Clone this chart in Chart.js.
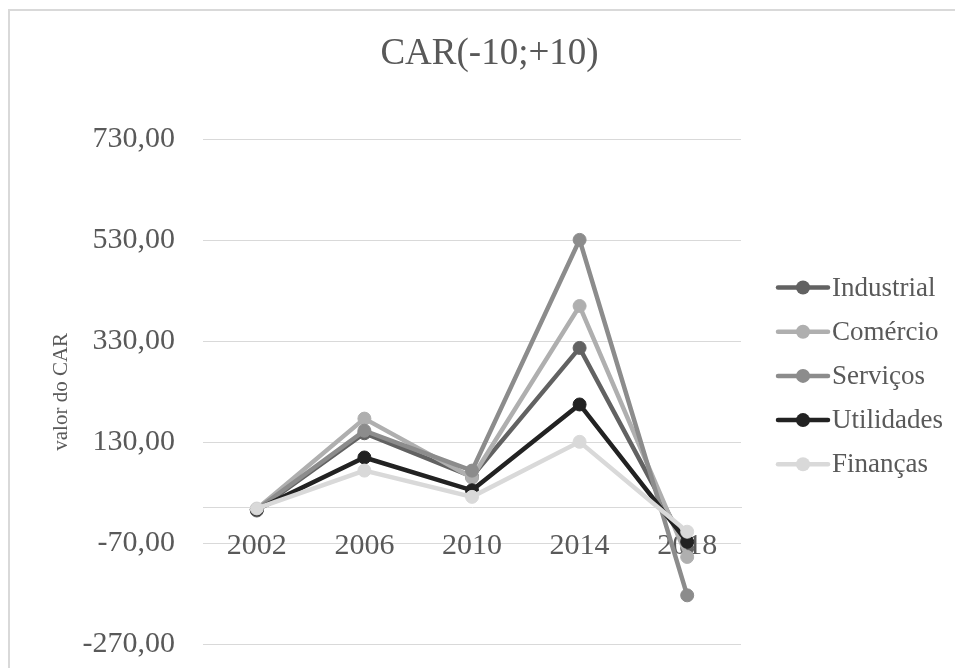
<!DOCTYPE html>
<html>
<head>
<meta charset="utf-8">
<script src="https://cdn.jsdelivr.net/npm/chart.js@4/dist/chart.umd.min.js"></script>
<style>
  html, body { margin: 0; padding: 0; background: #fff; overflow: hidden; }
  #wrap { position: relative; width: 955px; height: 668px; overflow: hidden; }
  #frame { position: absolute; left: 8px; top: 9px; width: 1200px; height: 1200px;
           border-left: 2px solid #d9d9d9; border-top: 2px solid #d9d9d9; box-sizing: border-box; }
  canvas { position: absolute; left: 0; top: 0; }
</style>
</head>
<body>
<div id="wrap">
  <div id="frame"></div>
  <canvas id="c" width="955" height="668"></canvas>
</div>
<script>
const categories = ['2002', '2006', '2010', '2014', '2018'];
const industrial = [-5, 148, 62, 317, -80];
const comercio   = [-2, 177, 60, 400, -97];
const servicos   = [-3, 153, 74, 531, -173];
const utilidades = [-3, 100, 35, 205, -67];
const financas   = [-1, 74, 22, 131, -47];
const seriesNames = ['Industrial', 'Comércio', 'Serviços', 'Utilidades', 'Finanças'];
const seriesColors = ['#626262', '#afafaf', '#8c8c8c', '#222222', '#d9d9d9'];
const yTickValues = [-270, -70, 130, 330, 530, 730];
const yTickLabels = ['-270,00', '-70,00', '130,00', '330,00', '530,00', '730,00'];

const FONT = '"Liberation Serif", "Times New Roman", serif';
const TEXT = '#595959';

const allSeries = [industrial, comercio, servicos, utilidades, financas];
const datasets = allSeries.map((d, i) => ({
  label: seriesNames[i],
  data: d,
  borderColor: seriesColors[i],
  backgroundColor: seriesColors[i],
  pointBackgroundColor: seriesColors[i],
  pointBorderColor: seriesColors[i],
  borderWidth: 4.5,
  pointRadius: 6.5,
  pointBorderWidth: 1,
  tension: 0,
  order: allSeries.length - i
}));

const legendPlugin = {
  id: 'excelLegend',
  afterDraw(chart) {
    const ctx = chart.ctx;
    const x0 = 778, y0 = 287.5, step = 44.2;
    ctx.save();
    chart.data.datasets.forEach((ds, i) => {
      const y = y0 + i * step;
      ctx.strokeStyle = ds.borderColor;
      ctx.lineWidth = 4.5;
      ctx.lineCap = 'round';
      ctx.beginPath();
      ctx.moveTo(x0, y);
      ctx.lineTo(x0 + 50, y);
      ctx.stroke();
      ctx.fillStyle = ds.backgroundColor;
      ctx.beginPath();
      ctx.arc(x0 + 25, y, 7, 0, Math.PI * 2);
      ctx.fill();
      ctx.fillStyle = TEXT;
      ctx.font = '27px ' + FONT;
      ctx.textBaseline = 'middle';
      ctx.textAlign = 'left';
      ctx.fillText(ds.label, x0 + 54, y + 1);
    });
    ctx.restore();
  }
};

new Chart(document.getElementById('c'), {
  type: 'line',
  data: { labels: categories, datasets },
  plugins: [legendPlugin],
  options: {
    responsive: false,
    animation: false,
    devicePixelRatio: 1,
    layout: { padding: { left: 24, right: 0, top: 0, bottom: 23.7 } },
    plugins: {
      legend: { display: false },
      tooltip: { enabled: false },
      title: {
        display: true,
        text: 'CAR(-10;+10)',
        color: TEXT,
        font: { family: FONT, size: 37, weight: 'normal' },
        padding: { top: 32, bottom: 63 }
      }
    },
    scales: {
      x: {
        position: { y: 0 },
        offset: true,
        afterFit(axis) { axis.height = 0; },
        grid: { display: false, offset: true },
        border: { display: true, color: '#d9d9d9', width: 1 },
        ticks: { color: TEXT, font: { family: FONT, size: 30 }, padding: 12, maxRotation: 0 }
      },
      y: {
        min: -270,
        max: 730,
        afterBuildTicks(axis) { axis.ticks = yTickValues.map(v => ({ value: v })); },
        afterFit(axis) { axis.width = 179; axis.paddingTop = 18; axis.paddingBottom = 18; },
        grid: { color: '#d9d9d9', lineWidth: 1, drawTicks: false },
        border: { display: false },
        ticks: {
          color: TEXT,
          font: { family: FONT, size: 30 },
          padding: 28,
          callback: (v) => yTickLabels[yTickValues.indexOf(v)]
        },
        title: {
          display: true,
          text: 'valor do CAR',
          color: TEXT,
          font: { family: FONT, size: 21 },
          padding: { top: 24.4, bottom: 0 }
        }
      },
      yR: {
        position: 'right',
        display: true,
        afterFit(axis) { axis.width = 214; },
        grid: { display: false, drawTicks: false },
        border: { display: false },
        ticks: { display: false }
      }
    }
  }
});
</script>
</body>
</html>
